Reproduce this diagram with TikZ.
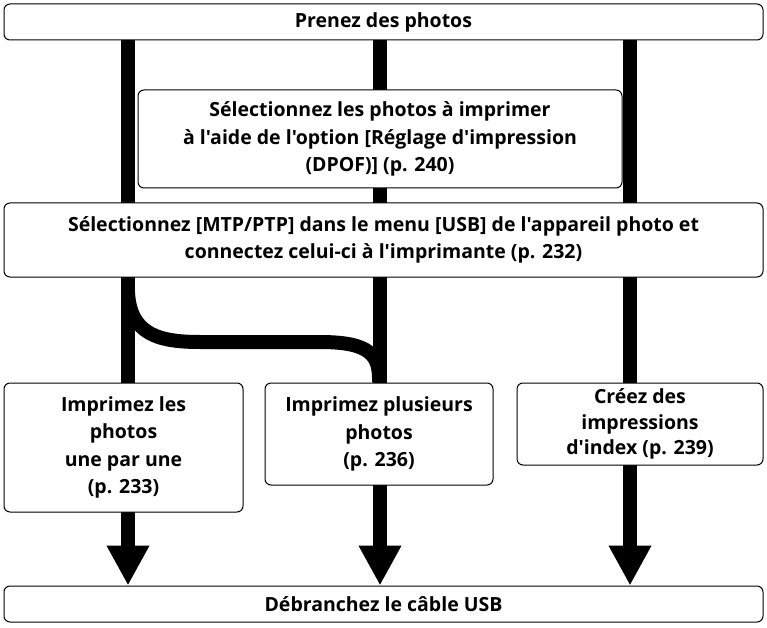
\documentclass[tikz,border=0pt]{standalone}
\usepackage{fontspec}
\setmainfont{Open Sans}[Ligatures=TeXOff]
\usetikzlibrary{arrows.meta,backgrounds}
\tikzset{%
  every step/.style={
    draw,
    rounded corners=6pt,
    fill=white,
    line width=1pt,
    align=center,
    font=\bfseries\fontsize{19.5}{27.5}\selectfont,
    inner sep=0pt
  },
  bar/.style={line width=14pt},
  flow/.style={bar, -{Triangle[width=40pt,length=40pt]}},
}
\begin{document}
\begin{tikzpicture}[x=1pt, y=-1pt]
  \useasboundingbox (0,0) rectangle (767,628);
  \node [every step, minimum width=759pt, minimum height=36pt] (shoot) at (383.5,22) {Prenez des photos};
  \node [every step, minimum width=484pt, minimum height=98pt] (dpof) at (380,139)
    {Sélectionnez les photos à imprimer\\à l'aide de l'option [Réglage d'impression\\(DPOF)] (p. 240)};
  \node [every step, minimum width=759pt, minimum height=74pt] (connect) at (383.5,240)
    {Sélectionnez [MTP/PTP] dans le menu [USB] de l'appareil photo et\\connectez celui-ci à l'imprimante (p. 232)};
  \node [every step, minimum width=239pt, minimum height=129pt] (single) at (123.5,447.5)
    {Imprimez les\\photos\\une par une\\(p. 233)};
  \node [every step, minimum width=228pt, minimum height=102pt] (multi) at (379,434)
    {Imprimez plusieurs\\photos\\(p. 236)};
  \node [every step, minimum width=246pt, minimum height=82pt,
    font=\bfseries\fontsize{19.5}{25.5}\selectfont] (index) at (640,424)
    {Créez des\\impressions\\d'index (p. 239)};
  \node [every step, minimum width=759pt, minimum height=36pt] (unplug) at (383.5,604) {Débranchez le câble USB};

  \begin{scope}[on background layer]
    \draw [flow] (shoot.south -| 128,0) -- (unplug.north -| 128,0);
    \draw [flow] (shoot.south -| 380,0) -- (unplug.north -| 380,0);
    \draw [flow] (shoot.south -| 630,0) -- (unplug.north -| 630,0);
    \draw [bar] (128,292) .. controls (130,335) and (160,342) .. (200,342)
      -- (320,342) .. controls (370,342) and (380,355) .. (multi.north);
  \end{scope}
\end{tikzpicture}
\end{document}
